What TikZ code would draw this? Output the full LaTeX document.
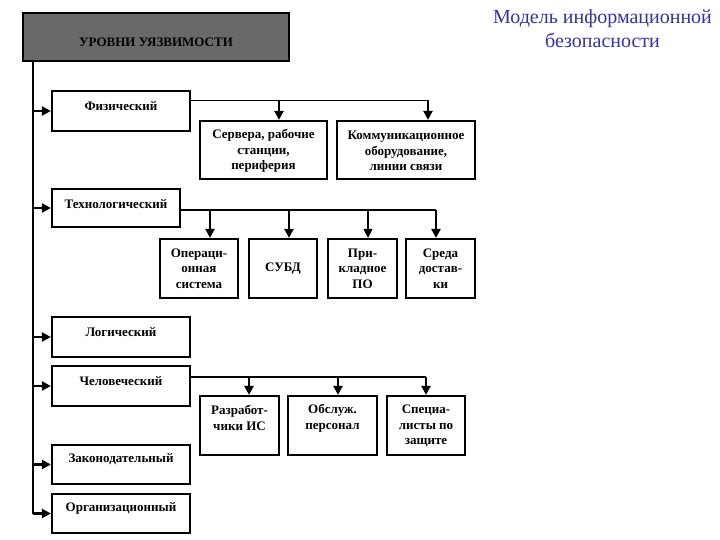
\documentclass[tikz,border=0pt]{standalone}
\usepackage{fontspec}
\setmainfont{Liberation Serif}
\usetikzlibrary{arrows.meta}
\definecolor{titleblue}{RGB}{55,50,160}
\definecolor{topgray}{RGB}{105,105,105}
\begin{document}
\begin{tikzpicture}[x=1pt,y=-1pt,
  box/.style={draw=black, line width=2.2pt, rectangle, inner sep=0pt, fill=white},
  txt/.style={font=\fontsize{13}{15.5}\selectfont\bfseries, align=center, inner sep=0pt},
  arr/.style={-{Triangle[length=9pt,width=9pt]}},
  thin/.style={line width=1.1pt},
  thick2/.style={line width=2.2pt}]
\useasboundingbox (0,0) rectangle (720,540);
% title
\node[font=\fontsize{20}{24}\selectfont, text=titleblue, align=center, inner sep=0pt] (title) at (602.5,29) {Модель информационной\\безопасности};
% top box
\node[box, fill=topgray, minimum width=266pt, minimum height=48pt] (top) at (156,37) {};
\node[txt] (toptxt) at (156,42) {УРОВНИ УЯЗВИМОСТИ};
% level boxes
\node[box, minimum width=138pt, minimum height=40pt] (fiz) at (121,111) {};
\node[txt] (fiztxt) at (121,106) {Физический};
\node[box, minimum width=128pt, minimum height=38pt] (tech) at (116,208) {};
\node[txt] (techtxt) at (116,204.5) {Технологический};
\node[box, minimum width=138pt, minimum height=40pt] (log) at (121,337) {};
\node[txt] (logtxt) at (121,332) {Логический};
\node[box, minimum width=138pt, minimum height=40pt] (hum) at (121,386) {};
\node[txt] (humtxt) at (121,381) {Человеческий};
\node[box, minimum width=138pt, minimum height=39pt] (law) at (121,464.5) {};
\node[txt] (lawtxt) at (121,459.5) {Законодательный};
\node[box, minimum width=138pt, minimum height=39pt] (org) at (121,513.5) {};
\node[txt] (orgtxt) at (121,508) {Организационный};
% children of Физический
\node[box, minimum width=127pt, minimum height=58pt] (srv) at (263.5,150) {};
\node[txt] (srvtxt) at (263.5,151) {Сервера, рабочие\\станции,\\периферия};
\node[box, minimum width=138pt, minimum height=58pt] (com) at (406,150) {};
\node[txt] (comtxt) at (406,151) {Коммуникационное\\оборудование,\\линии связи};
% children of Технологический
\node[box, minimum width=78pt, minimum height=59pt] (os) at (199,268.5) {};
\node[txt] (ostxt) at (199,268.5) {Операци-\\онная\\система};
\node[box, minimum width=68pt, minimum height=59pt] (db) at (283,268.5) {};
\node[txt] (dbtxt) at (283,269) {СУБД};
\node[box, minimum width=69pt, minimum height=59pt] (app) at (362.5,268.5) {};
\node[txt] (apptxt) at (362.5,268.5) {При-\\кладное\\ПО};
\node[box, minimum width=69pt, minimum height=59pt] (env) at (440.5,268.5) {};
\node[txt] (envtxt) at (440.5,268.5) {Среда\\достав-\\ки};
% children of Человеческий
\node[box, minimum width=79pt, minimum height=59pt] (dev) at (239.5,425.5) {};
\node[txt] (devtxt) at (239.5,418) {Разработ-\\чики ИС};
\node[box, minimum width=89pt, minimum height=59pt] (srvp) at (332.5,425.5) {};
\node[txt] (srvptxt) at (332.5,418) {Обслуж.\\персонал};
\node[box, minimum width=78pt, minimum height=59pt] (spec) at (426,425.5) {};
\node[txt] (spectxt) at (426,426) {Специа-\\листы по\\защите};
% spine
\coordinate (s0) at (33,61);
\coordinate (s1) at (33,513.5);
\draw[thick2] (s0) -- (s1);
\foreach \n in {fiz,tech,log,hum,law,org}{
  \draw[thick2, arr] (33,0 |- \n.west) -- (\n.west);
}
% Физический branches
\coordinate (f1) at (279,100.5);
\coordinate (f2) at (428,100.5);
\draw[thin] (fiz.east |- f1) -- (f2);
\draw[thick2, arr] (f1) -- (f1 |- srv.north);
\draw[thick2, arr] (f2) -- (f2 |- com.north);
% Технологический branches
\coordinate (t1) at (210,210);
\coordinate (t2) at (289,210);
\coordinate (t3) at (368,210);
\coordinate (t4) at (436,210);
\draw[thin] (tech.east |- t1) -- (t4);
\draw[thick2, arr] (t1) -- (t1 |- os.north);
\draw[thick2, arr] (t2) -- (t2 |- db.north);
\draw[thin, arr] (t3) -- (t3 |- app.north);
\draw[thick2, arr] (t4) -- (t4 |- env.north);
% Человеческий branches
\coordinate (h1) at (249,377);
\coordinate (h2) at (338,377);
\coordinate (h3) at (426,377);
\draw[thick2] (hum.east |- h1) -- (h3);
\draw[thick2, arr] (h1) -- (h1 |- dev.north);
\draw[thick2, arr] (h2) -- (h2 |- srvp.north);
\draw[thick2, arr] (h3) -- (h3 |- spec.north);
\end{tikzpicture}
\end{document}
